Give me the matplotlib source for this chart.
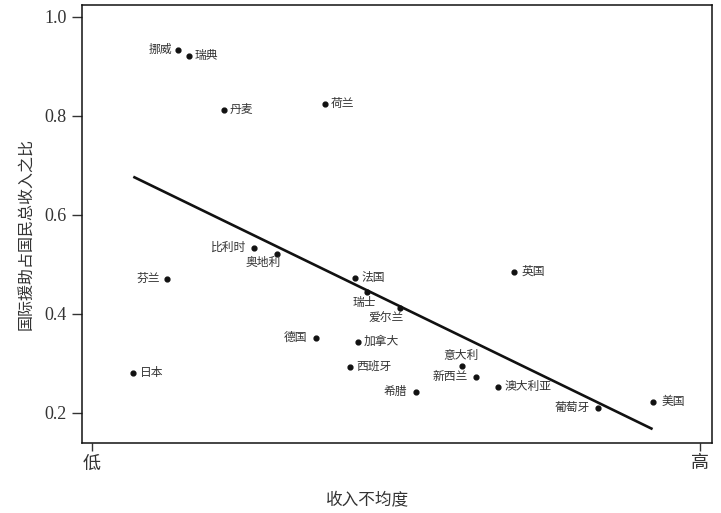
import matplotlib
matplotlib.use("Agg")
import matplotlib.pyplot as plt

plt.rcParams['font.family'] = ['Liberation Serif', 'Noto Sans CJK SC', 'DejaVu Sans']

# inequality (0 = low, 1 = high) vs aid / GNI
countries = ['挪威', '瑞典', '丹麦', '荷兰', '比利时', '奥地利', '芬兰', '日本',
             '德国', '法国', '瑞士', '爱尔兰', '加拿大', '西班牙', '意大利',
             '新西兰', '希腊', '澳大利亚', '葡萄牙', '美国', '英国']
inequality = [0.142, 0.159, 0.217, 0.383, 0.267, 0.305, 0.124, 0.068,
              0.368, 0.433, 0.453, 0.507, 0.437, 0.425, 0.608,
              0.632, 0.533, 0.667, 0.832, 0.923, 0.694]
aid_ratio = [0.933, 0.922, 0.812, 0.824, 0.533, 0.521, 0.471, 0.281,
             0.351, 0.472, 0.444, 0.411, 0.343, 0.293, 0.294,
             0.273, 0.242, 0.253, 0.210, 0.222, 0.485]

fit_x = [0.068, 0.922]
fit_y = [0.677, 0.167]

y_ticks = [0.2, 0.4, 0.6, 0.8, 1.0]
x_tick_labels = ['低', '高']

# label placement: (dx px, dy px, ha)
label_pos = {
    '挪威': (-6, 0, 'right'), '瑞典': (6, 0, 'left'), '丹麦': (6, 0, 'left'),
    '荷兰': (6, 0, 'left'), '比利时': (-8, 0, 'right'), '奥地利': (3, -9, 'right'),
    '芬兰': (-7, 0, 'right'), '日本': (7, 0, 'left'), '德国': (-9, 0, 'right'),
    '法国': (6, 0, 'left'), '瑞士': (-3, -11, 'center'), '爱尔兰': (3, -11, 'right'),
    '加拿大': (6, 0, 'left'), '西班牙': (6, 0, 'left'), '意大利': (-1, 10, 'center'),
    '新西兰': (-8, 0, 'right'), '希腊': (-9, 0, 'right'), '澳大利亚': (7, 0, 'left'),
    '葡萄牙': (-8, 0, 'right'), '美国': (8, 0, 'left'), '英国': (8, 0, 'left'),
}

fig = plt.figure(figsize=(7.21, 5.13), dpi=100)
ax = fig.add_axes([0.1137, 0.1365, 0.8738, 0.8537])

ax.plot(fit_x, fit_y, color='#111111', linewidth=1.9, solid_capstyle='butt')
ax.scatter(inequality, aid_ratio, s=12, color='#111111', zorder=3)

for name, xv, yv in zip(countries, inequality, aid_ratio):
    dx, dy, ha = label_pos[name]
    ax.annotate(name, (xv, yv), xytext=(dx, dy), textcoords='offset pixels',
                ha=ha, va='center', fontsize=8.5, color='#333333')

ax.set_xlim(-0.0164, 1.0197)
ax.set_ylim(0.139, 1.024)
ax.set_yticks(y_ticks)
ax.set_yticklabels([f'{t:.1f}' for t in y_ticks])
ax.set_xticks([0, 1])
ax.set_xticklabels(x_tick_labels)

ax.tick_params(axis='y', direction='out', length=7, width=1, labelsize=13,
               colors='#333333', pad=4)
ax.tick_params(axis='x', direction='out', length=6, width=1, labelsize=13,
               colors='#333333', pad=3)
for sp in ax.spines.values():
    sp.set_linewidth(1.1)
    sp.set_color('#111111')

ax.set_xlabel('收入不均度', fontsize=12, color='#333333', va='center')
ax.set_ylabel('国际援助占国民总收入之比', fontsize=11.5, color='#333333', va='center')
ax.xaxis.set_label_coords(0.453, -0.130)
ax.yaxis.set_label_coords(-0.087, 0.477)

fig.savefig('out.png', dpi=100)
